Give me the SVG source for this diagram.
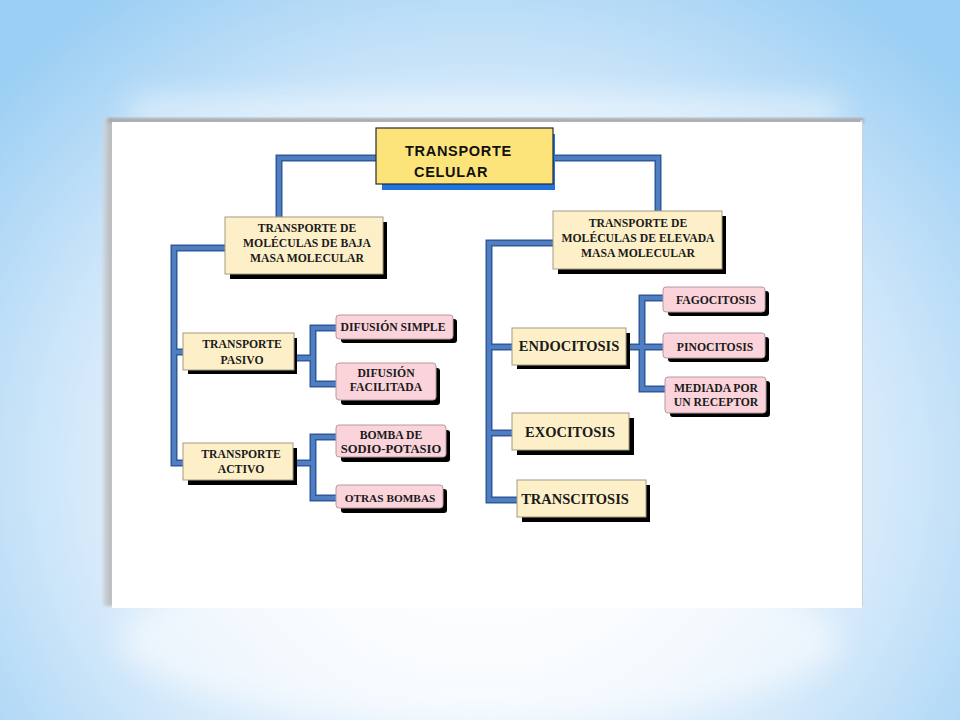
<svg xmlns="http://www.w3.org/2000/svg" width="960" height="720" viewBox="0 0 960 720">
<defs>
  <radialGradient id="bg" gradientUnits="userSpaceOnUse" cx="480" cy="470" r="640" gradientTransform="translate(480 470) scale(1 0.9) translate(-480 -470)">
    <stop offset="0" stop-color="#ffffff"/>
    <stop offset="0.35" stop-color="#f4f9fe"/>
    <stop offset="0.65" stop-color="#d2e8fa"/>
    <stop offset="1" stop-color="#9ccff4"/>
  </radialGradient>
  <filter id="blur2" x="-50%" y="-5%" width="200%" height="110%"><feGaussianBlur stdDeviation="1.8"/></filter>
  <filter id="glow" filterUnits="userSpaceOnUse" x="0" y="0" width="960" height="720"><feGaussianBlur stdDeviation="14"/></filter>
  <linearGradient id="leftsh" x1="0" y1="0" x2="1" y2="0">
    <stop offset="0" stop-color="#cfd8e0"/>
    <stop offset="1" stop-color="#b4b4b4"/>
  </linearGradient>
</defs>
<style>
  .cream { fill: #fdf0c9; stroke: #a39a82; stroke-width: 1; }
  .pink { fill: #fbd3da; stroke: #b49aa0; stroke-width: 1; }
  .shadow { fill: #000000; }
  .t { font-family: "Liberation Serif", "Times New Roman", serif; font-weight: bold; fill: #1a1a1a; text-anchor: middle; }
  .s12 { font-size: 11.7px; }
  .s14 { font-size: 14.5px; }
  .top { font-family: "Liberation Sans", Arial, sans-serif; font-weight: bold; font-size: 14.5px; letter-spacing: 0.7px; fill: #111111; }
  .cOut { fill: none; stroke: #31599a; stroke-width: 7; stroke-linejoin: miter; stroke-linecap: butt; }
  .cIn { fill: none; stroke: #4f7fc2; stroke-width: 4; stroke-linejoin: miter; stroke-linecap: butt; }
</style>

<!-- background -->
<rect x="0" y="0" width="960" height="720" fill="url(#bg)"/>
<ellipse cx="480" cy="640" rx="360" ry="80" fill="#ffffff" opacity="0.5" filter="url(#glow)"/>
<rect x="130" y="100" width="710" height="22" fill="#ffffff" opacity="0.55" filter="url(#glow)"/>

<!-- paper -->
<rect x="103" y="118" width="10" height="488" fill="url(#leftsh)" filter="url(#blur2)"/>
<rect x="108" y="118" width="756" height="5" fill="#a9a9a9" filter="url(#blur2)"/>
<rect x="860" y="120" width="3" height="486" fill="#c8d0d8"/>
<rect x="112" y="122" width="750" height="486" fill="#ffffff"/>

<!-- connectors -->
<g id="connectors">
  <g class="cOut">
    <path id="p1" d="M376,158 H279 V217"/>
    <path id="p2" d="M553,158 H658 V211"/>
    <path id="p3" d="M225,248 H174 V463 H183 M174,352 H183"/>
    <path id="p4" d="M294,358 H313 M336,328 H313 V384 H336"/>
    <path id="p5" d="M293,463 H313 M336,437 H313 V498 H336"/>
    <path id="p6" d="M553,243 H489 V500 H517 M489,347 H512 M489,433 H512"/>
    <path id="p7" d="M626,347 H663 M663,298 H642 V389 H665"/>
  </g>
  <g class="cIn">
    <use href="#p1"/><use href="#p2"/><use href="#p3"/><use href="#p4"/><use href="#p5"/><use href="#p6"/><use href="#p7"/>
  </g>
</g>

<!-- nodes -->
<g id="n-transporte-celular">
  <rect x="382" y="134" width="173" height="56" fill="#1f74e0"/>
  <rect x="376" y="128" width="177" height="56" fill="#fde47a" stroke="#2b2b2b" stroke-width="1.2"/>
  <text class="top" x="405" y="156">TRANSPORTE</text>
  <text class="top" x="414" y="177">CELULAR</text>
</g>

<g id="n-baja">
  <rect class="shadow" x="230" y="222" width="157" height="57"/>
  <rect class="cream" x="225" y="217" width="158" height="57"/>
  <text class="t s12" x="307" y="232">TRANSPORTE DE</text>
  <text class="t s12" x="307" y="247">MOLÉCULAS DE BAJA</text>
  <text class="t s12" x="307" y="262">MASA MOLECULAR</text>
</g>

<g id="n-elevada">
  <rect class="shadow" x="558" y="216" width="168" height="58"/>
  <rect class="cream" x="553" y="211" width="169" height="58"/>
  <text class="t s12" x="638" y="227">TRANSPORTE DE</text>
  <text class="t s12" x="638" y="242">MOLÉCULAS DE ELEVADA</text>
  <text class="t s12" x="638" y="257">MASA MOLECULAR</text>
</g>

<g id="n-pasivo">
  <rect class="shadow" x="188" y="338" width="109" height="36"/>
  <rect class="cream" x="183" y="333" width="111" height="37"/>
  <text class="t s12" x="242" y="348">TRANSPORTE</text>
  <text class="t s12" x="242" y="364">PASIVO</text>
</g>

<g id="n-activo">
  <rect class="shadow" x="188" y="448" width="109" height="37"/>
  <rect class="cream" x="183" y="443" width="110" height="37"/>
  <text class="t s12" x="241" y="458">TRANSPORTE</text>
  <text class="t s12" x="241" y="473">ACTIVO</text>
</g>

<g id="n-difusion-simple">
  <rect class="shadow" x="341" y="319" width="116" height="24" rx="3"/>
  <rect class="pink" x="336" y="315" width="117" height="24" rx="3"/>
  <text class="t s12" x="393" y="331">DIFUSIÓN SIMPLE</text>
</g>

<g id="n-difusion-facilitada">
  <rect class="shadow" x="341" y="368" width="99" height="37" rx="3"/>
  <rect class="pink" x="336" y="363" width="100" height="37" rx="3"/>
  <text class="t s12" x="386" y="377">DIFUSIÓN</text>
  <text class="t s12" x="386" y="391">FACILITADA</text>
</g>

<g id="n-bomba">
  <rect class="shadow" x="341" y="430" width="109" height="32" rx="3"/>
  <rect class="pink" x="336" y="425" width="110" height="32" rx="3"/>
  <text class="t s12" x="391" y="439">BOMBA DE</text>
  <text class="t" style="font-size:12.6px" x="391" y="453">SODIO-POTASIO</text>
</g>

<g id="n-otras">
  <rect class="shadow" x="341" y="489" width="106" height="24" rx="3"/>
  <rect class="pink" x="336" y="485" width="107" height="23" rx="3"/>
  <text class="t" style="font-size:11.3px" x="390" y="502">OTRAS BOMBAS</text>
</g>

<g id="n-endocitosis">
  <rect class="shadow" x="517" y="333" width="113" height="36"/>
  <rect class="cream" x="512" y="328" width="114" height="37"/>
  <text class="t s14" x="569" y="351">ENDOCITOSIS</text>
</g>

<g id="n-exocitosis">
  <rect class="shadow" x="517" y="418" width="117" height="37"/>
  <rect class="cream" x="512" y="413" width="117" height="37"/>
  <text class="t s14" x="570" y="437">EXOCITOSIS</text>
</g>

<g id="n-transcitosis">
  <rect class="shadow" x="522" y="485" width="128" height="37"/>
  <rect class="cream" x="517" y="480" width="129" height="37"/>
  <text class="t s14" x="575" y="504">TRANSCITOSIS</text>
</g>

<g id="n-fagocitosis">
  <rect class="shadow" x="668" y="291" width="101" height="25" rx="3"/>
  <rect class="pink" x="663" y="287" width="102" height="25" rx="3"/>
  <text class="t s12" x="716" y="304">FAGOCITOSIS</text>
</g>

<g id="n-pinocitosis">
  <rect class="shadow" x="668" y="337" width="101" height="25" rx="3"/>
  <rect class="pink" x="663" y="333" width="102" height="25" rx="3"/>
  <text class="t s12" x="715" y="351">PINOCITOSIS</text>
</g>

<g id="n-mediada">
  <rect class="shadow" x="670" y="381" width="100" height="36" rx="3"/>
  <rect class="pink" x="665" y="377" width="101" height="36" rx="3"/>
  <text class="t s12" x="716" y="392">MEDIADA POR</text>
  <text class="t s12" x="716" y="406">UN RECEPTOR</text>
</g>
</svg>
